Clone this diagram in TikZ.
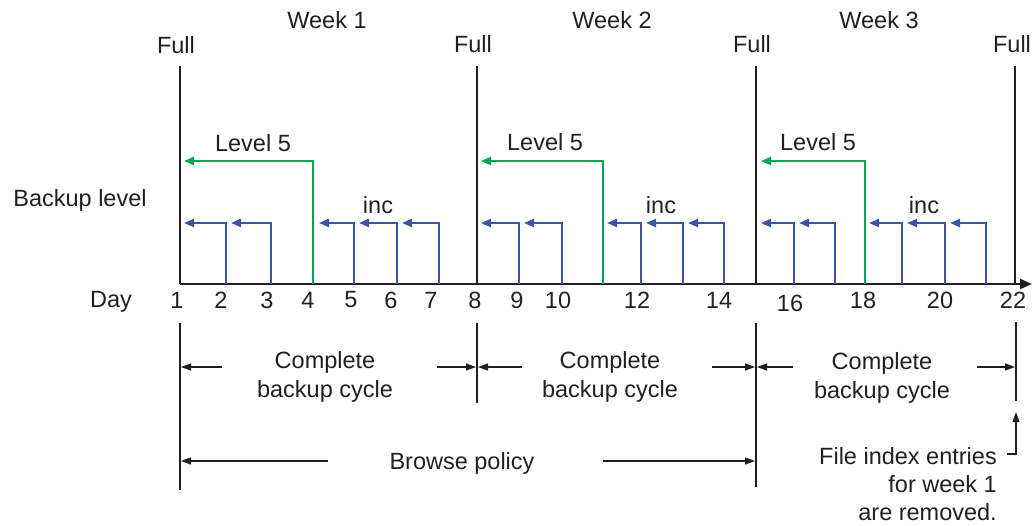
\documentclass[tikz,border=0pt]{standalone}
\usepackage{fontspec}
\setmainfont{Liberation Sans}
\usetikzlibrary{arrows.meta}
\definecolor{ink}{HTML}{231F20}
\definecolor{lvblue}{HTML}{3A55A4}
\definecolor{lvgreen}{HTML}{00A651}
\begin{document}
\begin{tikzpicture}[x=1pt,y=-1pt,
  font=\fontsize{23.5}{28.5}\selectfont,
  lbl/.style={inner sep=0pt, text=ink},
  fullline/.style={ink, line width=2.4pt},
  axisline/.style={ink, line width=2.4pt, -{Triangle[length=12pt,width=10pt]}},
  incarrow/.style={lvblue, line width=2pt, -{Triangle[length=10pt,width=8pt]}},
  lvarrow/.style={lvgreen, line width=2pt, -{Triangle[length=10pt,width=8pt]}},
  dimline/.style={ink, line width=1.1pt},
  dimarrow/.style={ink, line width=1.1pt, -{Triangle[length=10pt,width=7pt]}}]
\useasboundingbox (0,0) rectangle (1035,525);
% axis
\coordinate (ax0) at (180,284);
\coordinate (ax1) at (1032,284);
\draw[axisline] (ax0) -- (ax1);
% full backup lines
\foreach \n/\x in {f1/180,f2/477,f3/756,f4/1015}{
  \coordinate (\n top) at (\x,66);
  \coordinate (\n bot) at (\x,284);
  \draw[fullline] (\n top) -- (\n bot);
}
% incremental arrows
\foreach \i/\x/\t in {1/226/184,2/271/231,3/354/319,4/397/359,5/439/402,
                      6/519/481,7/562/524,8/641/607,9/683/646,10/724/688,
                      11/794/761,12/835/799,13/902/869,14/945/907,15/986/950}{
  \coordinate (ib\i) at (\x,284);
  \coordinate (it\i) at (\t,223);
  \draw[incarrow] (ib\i) |- (it\i);
}
% level 5 arrows
\foreach \i/\x/\t in {1/313/184,2/603/481,3/865/761}{
  \coordinate (gb\i) at (\x,284);
  \coordinate (gt\i) at (\t,161);
  \draw[lvarrow] (gb\i) |- (gt\i);
}
% labels top
\node[lbl] (wk1) at (327,20) {Week 1};
\node[lbl] (wk2) at (612,20) {Week 2};
\node[lbl] (wk3) at (879,20) {Week 3};
\node[lbl] (full1) at (176,45) {Full};
\node[lbl] (full2) at (473,44) {Full};
\node[lbl] (full3) at (752,44) {Full};
\node[lbl] (full4) at (1012,44) {Full};
\node[lbl] (lv1) at (253,143) {Level 5};
\node[lbl] (lv2) at (545,142) {Level 5};
\node[lbl] (lv3) at (818,142) {Level 5};
\node[lbl] (inc1) at (378,205) {inc};
\node[lbl] (inc2) at (661,205) {inc};
\node[lbl] (inc3) at (924,205) {inc};
\node[lbl] (blevel) at (80,200) {Backup level};
\node[lbl] (day) at (111,302) {Day};
\foreach \n/\x/\y in {1/177/300,2/221/300,3/267/300,4/308/300,5/351/300,6/391/300,7/431/300,8/475/300,
                      9/517/300,10/558/300,12/637/300,14/719/300,16/790/303,18/863/300,20/940/300,22/1013/300}{
  \node[lbl] (dn\n) at (\x,\y) {\n};
}
% bottom dimension lines
\coordinate (v1a) at (180,323); \coordinate (v1b) at (180,490);
\coordinate (v2a) at (477,323); \coordinate (v2b) at (477,403);
\coordinate (v3a) at (756,323); \coordinate (v3b) at (756,487);
\coordinate (v4a) at (1016,322); \coordinate (v4b) at (1016,401);
\draw[dimline] (v1a) -- (v1b);
\draw[dimline] (v2a) -- (v2b);
\draw[dimline] (v3a) -- (v3b);
\draw[dimline] (v4a) -- (v4b);
% cycle arrows
\coordinate (c1l) at (222,367); \coordinate (c1lt) at (181,367);
\coordinate (c1r) at (437,367); \coordinate (c1rt) at (476,367);
\coordinate (c2l) at (522,367); \coordinate (c2lt) at (478,367);
\coordinate (c2r) at (712,367); \coordinate (c2rt) at (755,367);
\coordinate (c3l) at (793,367); \coordinate (c3lt) at (757,367);
\coordinate (c3r) at (977,367); \coordinate (c3rt) at (1015,367);
\foreach \a/\b in {c1l/c1lt,c1r/c1rt,c2l/c2lt,c2r/c2rt,c3l/c3lt,c3r/c3rt}{
  \draw[dimarrow] (\a) -- (\b);
}
\node[lbl, align=center] (cyc1) at (325,377) {Complete\\backup cycle};
\node[lbl, align=center] (cyc2) at (610,377) {Complete\\backup cycle};
\node[lbl, align=center] (cyc3) at (882,378) {Complete\\backup cycle};
% browse policy
\coordinate (bl) at (328,461); \coordinate (blt) at (181,461);
\coordinate (br) at (603,461); \coordinate (brt) at (755,461);
\draw[dimarrow] (bl) -- (blt);
\draw[dimarrow] (br) -- (brt);
\node[lbl] (browse) at (462,463) {Browse policy};
% file index note
\node[lbl, align=right, anchor=north east, font=\fontsize{23.5}{28}\selectfont] (fidx) at (997,447) {File index entries\\for week 1\\are removed.};
\coordinate (fa) at (1007,454);
\coordinate (fc) at (1016,454);
\coordinate (ft) at (1016,412);
\draw[dimarrow] (fa) -- (fc) -- (ft);
\end{tikzpicture}
\end{document}
